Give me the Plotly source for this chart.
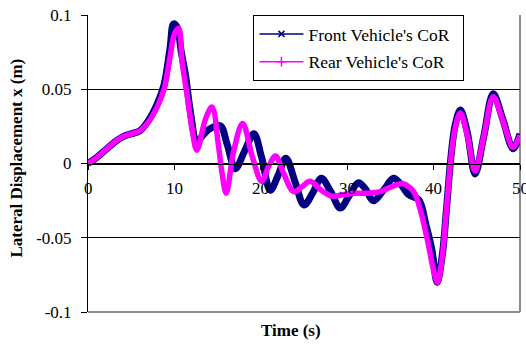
import plotly.graph_objects as go

# Front vehicle's CoR (time s, lateral displacement m)
front_t = [0, 1, 2, 3, 4, 5, 6, 7, 8, 8.8, 9.5, 9.9, 10.3, 10.8, 11.3, 11.85, 12.6,
           13.3, 14.0, 15.3, 16.1, 17.05, 18.1, 19.2, 20.1, 21.1, 22.0, 22.9,
           24.0, 25.0, 26.0, 27.0, 28.1, 29.2, 30.2, 31.3, 32.1, 33.0, 34.2,
           35.35, 36.2, 37.1, 38.3, 39.1, 39.8, 40.4, 41.0, 41.5, 42.0, 42.5,
           43.1, 43.9, 44.8, 45.8, 46.9, 48.0, 49.2, 50.0]
front_v = [0.000, 0.004, 0.009, 0.014, 0.018, 0.020, 0.022, 0.029, 0.040, 0.053, 0.078, 0.094, 0.092, 0.075, 0.059, 0.035, 0.015,
           0.019, 0.023, 0.0255, 0.013, -0.0035, 0.008, 0.020, 0.004, -0.018, -0.008, 0.0035,
           -0.013, -0.028, -0.020, -0.010, -0.019, -0.030, -0.022, -0.013, -0.017, -0.025, -0.018,
           -0.010, -0.014, -0.021, -0.0245, -0.041, -0.058, -0.080, -0.062, -0.030, 0.004, 0.026,
           0.036, 0.021, -0.007, 0.018, 0.047, 0.030, 0.010, 0.020]

# Rear vehicle's CoR
rear_t = [0, 1, 2, 3, 4, 5, 6, 7, 8, 8.8, 9.5, 10.0, 10.5, 10.9, 11.5, 12.05, 12.6,
          13.6, 14.35, 15.1, 15.5, 16.0, 16.85, 17.9, 19.0, 20.1, 20.9, 21.7,
          22.6, 23.8, 24.7, 25.7, 27.0, 28.2, 29.5, 31.0, 32.5, 33.8, 35.0,
          36.4, 37.2, 37.8, 38.5, 39.3, 40.0, 40.45, 41.0, 41.5, 42.0, 42.5,
          43.1, 43.9, 44.8, 45.8, 46.9, 48.0, 49.2, 50.0]
rear_v = [0.000, 0.004, 0.009, 0.014, 0.018, 0.020, 0.022, 0.028, 0.038, 0.050, 0.072, 0.087, 0.091, 0.068, 0.045, 0.023, 0.009,
          0.030, 0.038, 0.012, -0.006, -0.020, 0.008, 0.027, 0.005, -0.012, -0.002, 0.005,
          -0.006, -0.019, -0.016, -0.012, -0.018, -0.022, -0.021, -0.020, -0.020, -0.019, -0.016,
          -0.0135, -0.016, -0.020, -0.032, -0.052, -0.072, -0.080, -0.063, -0.030, 0.003, 0.024,
          0.034, 0.019, -0.005, 0.018, 0.045, 0.029, 0.011, 0.019]

x_ticks = [0, 10, 20, 30, 40, 50]
x_tick_text = ["0", "10", "20", "30", "40", "50"]
y_ticks = [-0.1, -0.05, 0, 0.05, 0.1]
y_tick_text = ["-0.1", "-0.05", "0", "0.05", "0.1"]

NAVY = "#000080"
MAGENTA = "#FF00FF"
FONT = "Liberation Serif, Times New Roman, serif"

fig = go.Figure()
fig.add_trace(go.Scatter(x=front_t, y=front_v, mode="lines", line=dict(color=NAVY, width=7, shape="spline", smoothing=1.0),
                         showlegend=False))
fig.add_trace(go.Scatter(x=rear_t, y=rear_v, mode="lines", line=dict(color=MAGENTA, width=5.5, shape="spline", smoothing=1.0),
                         showlegend=False))
# legend entries
fig.add_trace(go.Scatter(x=[None], y=[None], mode="lines+markers", name="Front Vehicle's CoR&nbsp;&nbsp;",
                         legendgroup="a",
                         line=dict(color=NAVY, width=1.5),
                         marker=dict(symbol="x-thin", size=6, color=NAVY, line=dict(color=NAVY, width=1.5))))
fig.add_trace(go.Scatter(x=[None], y=[None], mode="lines+markers", name="Rear Vehicle's CoR",
                         legendgroup="b",
                         line=dict(color=MAGENTA, width=1.5),
                         marker=dict(symbol="cross-thin", size=7, color=MAGENTA, line=dict(color=MAGENTA, width=1.5))))

# x tick labels sit below the zero line (drawn as text at the tick values)
tick_annotations = [
    dict(text=lab, x=val, y=0, xref="x", yref="y", yshift=-25, xanchor="center", yanchor="middle",
         showarrow=False, font=dict(size=17, family=FONT, color="black"))
    for val, lab in zip(x_ticks, x_tick_text)
]

fig.update_layout(
    width=526, height=349,
    margin=dict(l=88, r=6, t=12, b=37),
    paper_bgcolor="white", plot_bgcolor="white",
    font=dict(family=FONT, size=17, color="black"),
    xaxis=dict(range=[0, 50], tickvals=x_ticks, ticks="outside", ticklen=5, tickcolor="black",
               showline=True, linecolor="black", linewidth=1, showgrid=False, zeroline=False,
               anchor="free", position=0.5, showticklabels=False, layer="above traces"),
    yaxis=dict(range=[-0.1, 0.1], tickvals=y_ticks, ticktext=y_tick_text, ticks="outside", ticklen=6,
               tickcolor="black", showline=True, linecolor="black", linewidth=1,
               showgrid=True, gridcolor="black", gridwidth=1, zeroline=False,
               ticklabelstandoff=6, tickfont=dict(size=17, family=FONT)),
    legend=dict(x=0.383, y=1, xanchor="left", yanchor="top", bgcolor="white", bordercolor="black",
                borderwidth=1, font=dict(size=17.5, family=FONT), tracegroupgap=2,
                traceorder="grouped", itemwidth=44),
    shapes=[
        dict(type="line", xref="paper", yref="paper", x0=0, x1=1, y0=0, y1=0,
             line=dict(color="#8c8c8c", width=2), layer="below"),
        dict(type="line", xref="paper", yref="paper", x0=1, x1=1, y0=0, y1=1,
             line=dict(color="#8c8c8c", width=2), layer="below"),
    ],
    annotations=tick_annotations + [
        dict(text="<b>Time (s)</b>", xref="paper", yref="paper", x=0.4705, y=-0.061,
             xanchor="center", yanchor="middle", showarrow=False, font=dict(size=17, family=FONT)),
        dict(text="<b>Lateral Displacement x (m)</b>", xref="paper", yref="paper", x=-0.1665, y=0.517,
             xanchor="center", yanchor="middle", textangle=-90, showarrow=False,
             font=dict(size=17, family=FONT)),
    ],
)

fig.write_html("out.html")
